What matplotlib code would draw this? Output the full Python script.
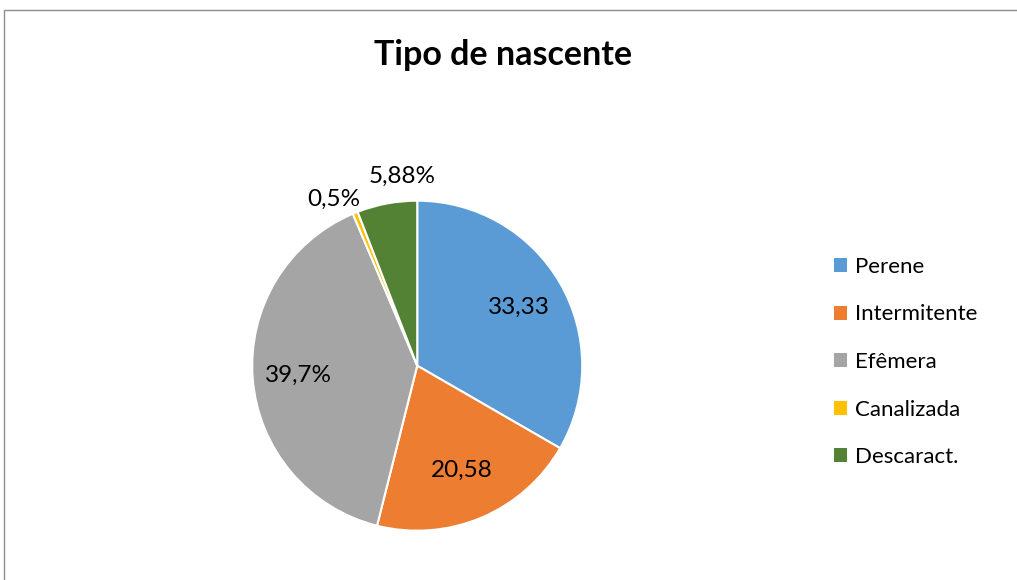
import numpy as np
import matplotlib
matplotlib.use("Agg")
import matplotlib.pyplot as plt
from matplotlib.patches import Rectangle, Patch

# Spring types and their shares (%)
categories = ["Perene", "Intermitente", "Efêmera", "Canalizada", "Descaract."]
values = [33.33, 20.58, 39.7, 0.5, 5.88]
value_labels = ["33,33", "20,58", "39,7%", "0,5%", "5,88%"]
colors = ["#5B9BD5", "#ED7D31", "#A5A5A5", "#FFC000", "#548235"]
label_radius = [0.71, 0.69, 0.72, 1.13, 1.15]

plt.rcParams["font.family"] = ["Lato", "DejaVu Sans"]

W, H = 1017, 580
fig = plt.figure(figsize=(W / 100, H / 100), dpi=100)

# Chart area frame
fig.patches.append(Rectangle((4 / W, -0.05), 1.2, 1 - 10 / H + 0.05,
                             transform=fig.transFigure, fill=False,
                             edgecolor="#8c8c8c", linewidth=1.0))

fig.text(503 / W, 1 - 55 / H, "Tipo de nascente", ha="center", va="center",
         fontsize=24.5, fontweight="bold", color="#000000")

ax = fig.add_axes([0.248, 0.085, 0.3245, 0.569])
wedges, _ = ax.pie(values, colors=colors, startangle=90, counterclock=False,
                   wedgeprops=dict(edgecolor="white", linewidth=1.5))
ax.set_xlim(-1, 1)
ax.set_ylim(-1, 1)
ax.set_aspect("auto")
ax.axis("off")

# angular nudges (degrees) for the outside labels of the thin slices
offsets = {3: 4.6, 4: -6.0}
for i, (w, lab, r) in enumerate(zip(wedges, value_labels, label_radius)):
    ang = np.deg2rad((w.theta1 + w.theta2) / 2 + offsets.get(i, 0.0))
    ax.text(r * np.cos(ang), r * np.sin(ang), lab, ha="center", va="center",
            fontsize=17.5, color="#000000", clip_on=False)

handles = [Patch(facecolor=c, edgecolor="none") for c in colors]
fig.legend(handles, categories, loc="center left",
           bbox_to_anchor=(823 / W, 1 - 362 / H), frameon=False,
           fontsize=16.0, handlelength=0.58, handleheight=0.58,
           handletextpad=0.38, labelspacing=1.24, borderpad=0)

fig.savefig("out.png", dpi=100, facecolor="white")
